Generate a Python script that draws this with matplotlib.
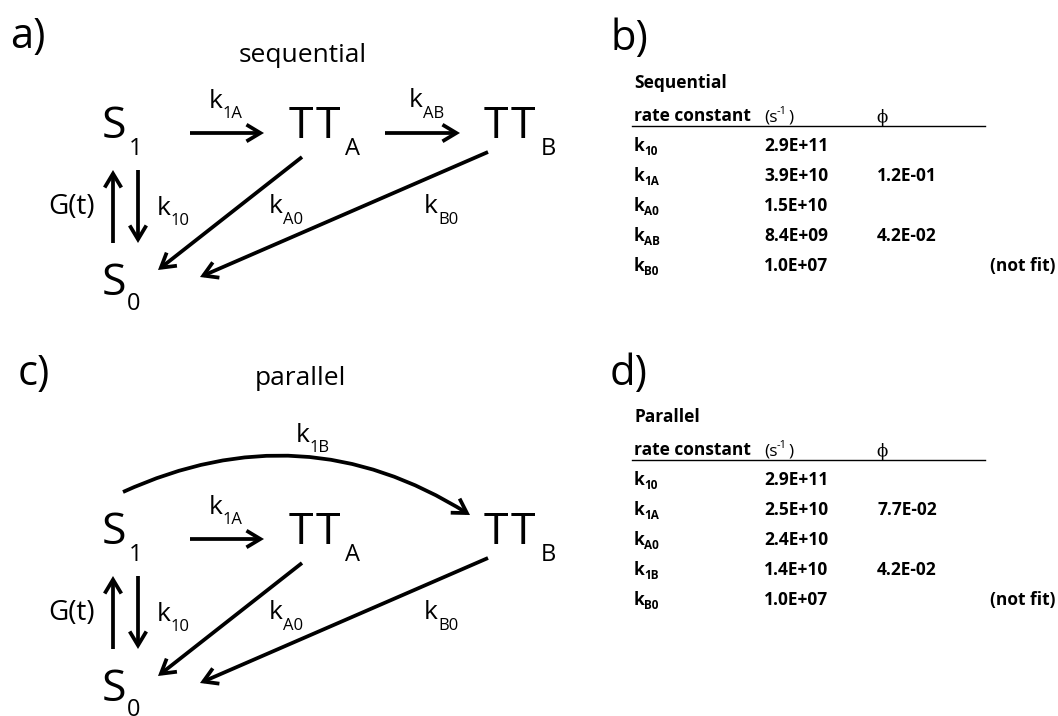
import matplotlib.pyplot as plt
from matplotlib.patches import FancyArrowPatch

plt.rcParams['font.family'] = ['Open Sans', 'DejaVu Sans']

# =============================================================================
# DONNÉES
# =============================================================================
seq_keys = ['10', '1A', 'A0', 'AB', 'B0']
seq_rates = [2.9e11, 3.9e10, 1.5e10, 8.4e9, 1.0e7]
seq_phi = [None, 0.12, None, 0.042, None]

par_keys = ['10', '1A', 'A0', '1B', 'B0']
par_rates = [2.9e11, 2.5e10, 2.4e10, 1.4e10, 1.0e7]
par_phi = [None, 0.077, None, 0.042, None]

not_fit = [False, False, False, False, True]

# =============================================================================
# FIGURE (coordonnées en pixels, y vers le bas)
# =============================================================================
fig = plt.figure(figsize=(10.58, 7.16), dpi=100)
ax = fig.add_axes([0, 0, 1, 1])
ax.set_xlim(0, 1058)
ax.set_ylim(716, 0)
ax.axis('off')

LW = 2.7


def arrow(p0, p1, rad=0.0):
    a = FancyArrowPatch(p0, p1, arrowstyle='->,head_length=0.5,head_width=0.3',
                        mutation_scale=20, lw=LW, color='black',
                        shrinkA=0, shrinkB=0, capstyle='butt', joinstyle='miter',
                        connectionstyle=f'arc3,rad={rad}')
    ax.add_patch(a)


def node(x, y, main, sub, dx, dy=17):
    # les deux T sont tracés séparément pour garder un petit espace
    for j, ch in enumerate(main):
        ax.text(x + 27 * j, y, ch, fontsize=32, va='baseline', ha='left')
    ax.text(x + dx, y + dy, sub, fontsize=17, va='baseline', ha='left')


def klab(x, y, sub, dy=10):
    ax.text(x, y, 'k', fontsize=19, va='baseline', ha='left')
    ax.text(x + 14, y + dy, sub, fontsize=12, va='baseline', ha='left')


def scheme(dy, parallel=False):
    node(102, 138 + dy, 'S', '1', 27)
    node(289, 138 + dy, 'TT', 'A', 56)
    node(484, 138 + dy, 'TT', 'B', 57)
    node(102, 295 + dy, 'S', '0', 25, dy=15)

    arrow((190, 133 + dy), (264, 133 + dy))
    klab(209, 108 + dy, '1A')
    if not parallel:
        arrow((385, 133 + dy), (460, 133 + dy))
        klab(409, 107 + dy, 'AB', dy=11)

    arrow((113, 243 + dy), (113, 170 + dy))
    arrow((138, 170 + dy), (138, 243 + dy))
    ax.text(95, 214 + dy, 'G(t)', fontsize=20, va='baseline', ha='right')
    klab(157, 215 + dy, '10')

    arrow((302, 157 + dy), (158, 270 + dy))
    klab(269, 213 + dy, 'A0', dy=11)
    arrow((488, 152 + dy), (200, 277 + dy))
    klab(424, 213 + dy, 'B0', dy=11)

    if parallel:
        arrow((123, 492), (470, 515), rad=-0.27)
        klab(296, 442, '1B', dy=10)


def table(y0, titre, keys, rates, phi):
    bold = dict(fontsize=12.5, fontweight='bold', va='baseline', ha='left')
    ax.text(634, y0, titre, **bold)
    ax.text(634, y0 + 33, 'rate constant', **bold)
    ax.text(764, y0 + 33, '(s', fontsize=12.5, va='baseline', ha='left')
    ax.text(777, y0 + 26, '-1', fontsize=8, va='baseline', ha='left')
    ax.text(788, y0 + 33, ')', fontsize=12.5, va='baseline', ha='left')
    ax.text(876, y0 + 34, 'ϕ', fontsize=12, va='baseline', ha='left', family='DejaVu Serif')
    ax.plot([632, 985], [y0 + 38, y0 + 38], color='black', lw=1.0)
    for i, k in enumerate(keys):
        yb = y0 + 63 + 30 * i
        ax.text(634, yb, 'k', **bold)
        ax.text(644, yb + 4, k, fontsize=8.5, fontweight='bold', va='baseline', ha='left')
        ax.text(764, yb, f'{rates[i]:.1E}', **bold)
        if phi[i] is not None:
            ax.text(877, yb, f'{phi[i]:.1E}', **bold)
        if not_fit[i]:
            ax.text(1056, yb, '(not fit)', fontsize=12.5, fontweight='bold', va='baseline', ha='right')


# a) séquentiel
ax.text(10, 48, 'a)', fontsize=30, va='baseline', ha='left')
ax.text(303, 62, 'sequential', fontsize=19, va='baseline', ha='center')
scheme(0)

# c) parallèle
ax.text(18, 385, 'c)', fontsize=30, va='baseline', ha='left')
ax.text(300, 385, 'parallel', fontsize=19, va='baseline', ha='center')
scheme(406, parallel=True)

# b) et d) tableaux
ax.text(610, 50, 'b)', fontsize=30, va='baseline', ha='left')
table(88, 'Sequential', seq_keys, seq_rates, seq_phi)
ax.text(610, 385, 'd)', fontsize=30, va='baseline', ha='left')
table(422, 'Parallel', par_keys, par_rates, par_phi)

fig.savefig('out.png', dpi=100)
